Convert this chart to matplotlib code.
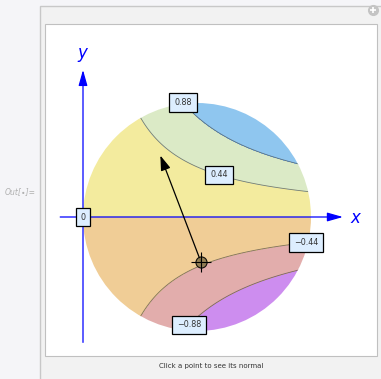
"""Contour plot of f(x, y) = x*y on a disk, with the normal at a clicked point"""
import matplotlib.pyplot as plt
import numpy as np
from matplotlib.patches import Circle, Rectangle

# contour levels and the fill colours between them (lowest band first)
levels = [-0.88, -0.44, 0.0, 0.44, 0.88]
fill_colors = ["#cd8def", "#e2adac", "#f0cd96", "#f3eb9e", "#dbeac6", "#8fc6ef"]
level_labels = ["\u22120.88", "\u22120.44", "0", "0.44", "0.88"]
label_x = [0.93, 1.956, 0.0, 1.193, 0.877]  # where on each contour the label sits

# disk (x-1)^2 + y^2 <= 1 and the clicked point
disk_center = (1.0, 0.0)
disk_radius = 1.0
click_point = (1.035, -0.395)


def f(x, y):
    return x * y


W, H = 381, 379
fig = plt.figure(figsize=(W / 100, H / 100), dpi=100)
fig.patch.set_facecolor("#f5f5f8")

# notebook frame, drawn in pixel coordinates
bg = fig.add_axes([0, 0, 1, 1])
bg.set_xlim(0, W)
bg.set_ylim(H, 0)
bg.axis("off")
bg.add_patch(Rectangle((39.5, 5.5), 345, 380, facecolor="#f2f2f2",
                       edgecolor="#c8c8c8", lw=1))
bg.add_patch(Rectangle((45, 24), 332, 332, facecolor="white",
                       edgecolor="#c0c0c0", lw=0.8))
bg.plot(373, 10, "o", ms=7, color="#c4c4c4")
bg.plot(373, 10, "+", ms=5, mew=1.2, color="white")
bg.text(20, 192, "Out[\u2219]=", fontsize=5.5, color="#b0b0b0",
        style="italic", ha="center", va="center")
bg.text(211, 366, "Click a point to see its normal", fontsize=5,
        color="#333333", ha="center", va="center")

# main plot, 114 px per unit, origin at pixel (83, 217)
s = 114.0
ax = fig.add_axes([45 / W, (H - 356) / H, 332 / W, 332 / H])
ax.set_xlim((45 - 83) / s, (377 - 83) / s)
ax.set_ylim((217 - 356) / s, (217 - 24) / s)
ax.axis("off")

xs = np.linspace(-0.05, 2.05, 500)
ys = np.linspace(-1.05, 1.05, 500)
X, Y = np.meshgrid(xs, ys)
Z = f(X, Y)

disk = Circle(disk_center, disk_radius, transform=ax.transData,
              facecolor="none", edgecolor="none")
ax.add_patch(disk)
cf = ax.contourf(X, Y, Z, levels=[-10] + levels + [10], colors=fill_colors)
cf.set_clip_path(disk)
cl = ax.contour(X, Y, Z, levels=[lv for lv in levels if lv != 0],
                colors="#333333", linewidths=0.6, alpha=0.6,
                linestyles="solid")
cl.set_clip_path(disk)

# axes with arrows
ax.annotate("", xy=(2.28, 0), xytext=(-0.2, 0),
            arrowprops=dict(arrowstyle="-|>,head_length=0.95,head_width=0.27",
                            color="blue", lw=0.9, shrinkA=0, shrinkB=0))
ax.annotate("", xy=(0, 1.29), xytext=(0, -1.10),
            arrowprops=dict(arrowstyle="-|>,head_length=0.95,head_width=0.27",
                            color="blue", lw=0.9, shrinkA=0, shrinkB=0))
ax.text(2.39, -0.01, "x", color="blue", fontsize=12, style="italic",
        ha="center", va="center")
ax.text(-0.01, 1.44, "y", color="blue", fontsize=12, style="italic",
        ha="center", va="center")

# contour labels
for lv, txt, lx in zip(levels, level_labels, label_x):
    ly = lv / lx if lx else 0.0
    ax.text(lx, ly, txt, fontsize=5.8, color="#333333", ha="center",
            va="center", zorder=5,
            bbox=dict(boxstyle="square,pad=0.6", facecolor="#ddeeff",
                      edgecolor="black", lw=0.9))

# unit normal at the clicked point (gradient of x*y is (y, x))
px, py = click_point
g = np.array([py, px])
g = g / np.linalg.norm(g)
ax.annotate("", xy=(px + g[0], py + g[1]), xytext=(px, py),
            arrowprops=dict(arrowstyle="-|>,head_length=0.9,head_width=0.3",
                            color="black", lw=0.9, shrinkA=0, shrinkB=0))
ax.plot(px, py, "o", ms=8, mfc="#8c7a4e", mec="black", mew=0.8, alpha=0.9,
        zorder=6)
ax.plot(px, py, "+", ms=14, mew=0.8, color="black", zorder=7)

fig.savefig("out.png", dpi=100, facecolor=fig.get_facecolor())
